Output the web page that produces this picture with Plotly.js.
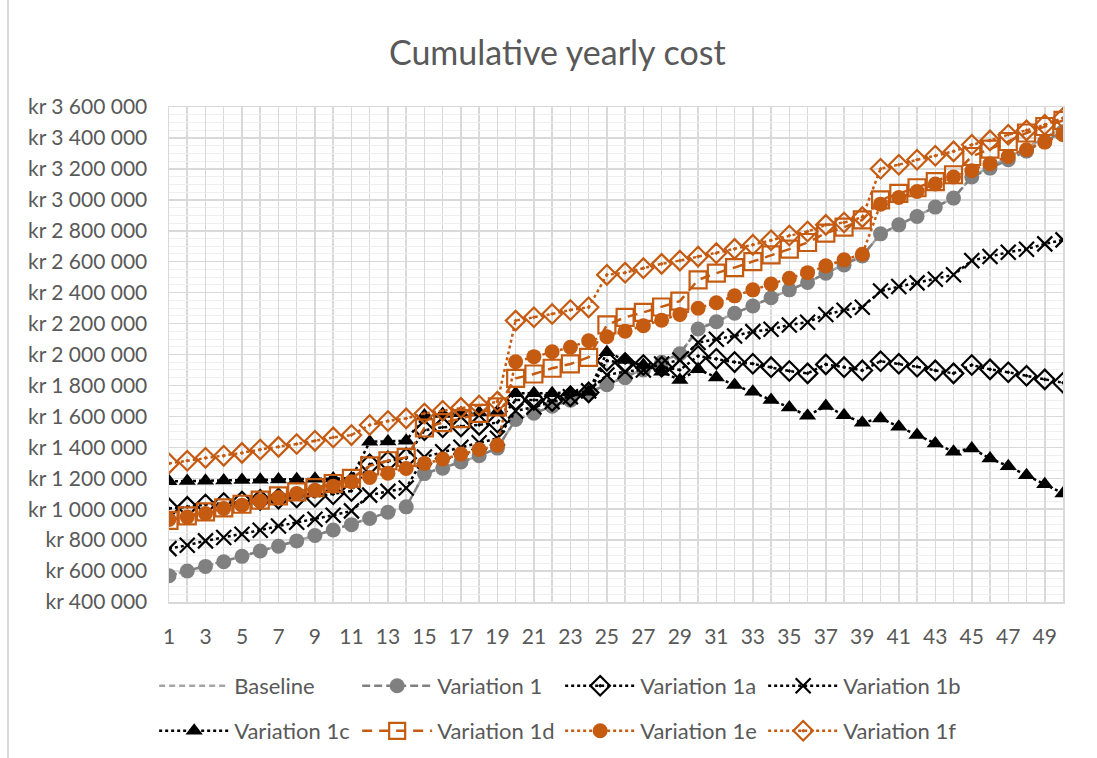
<!DOCTYPE html>
<html>
<head>
<meta charset="utf-8">
<script src="https://cdn.plot.ly/plotly-3.0.1.min.js"></script>
<style>html,body{margin:0;padding:0;background:#fff;}#chart{width:1097px;height:758px;}</style>
</head>
<body>
<div id="chart"></div>
<script>
const years = [1,2,3,4,5,6,7,8,9,10,11,12,13,14,15,16,17,18,19,20,21,22,23,24,25,26,27,28,29,30,31,32,33,34,35,36,37,38,39,40,41,42,43,44,45,46,47,48,49,50];
const xTickLabels = ["1","3","5","7","9","11","13","15","17","19","21","23","25","27","29","31","33","35","37","39","41","43","45","47","49"];
const seriesNames = ["Baseline","Variation 1","Variation 1a","Variation 1b","Variation 1c","Variation 1d","Variation 1e","Variation 1f"];

const baseline = [570000,600000,630000,660000,695000,730000,760000,795000,830000,865000,900000,940000,980000,1015000,1230000,1265000,1305000,1345000,1395000,1580000,1620000,1665000,1705000,1755000,1805000,1850000,1900000,1950000,2005000,2165000,2212000,2267000,2314000,2367000,2418000,2466000,2525000,2579000,2637000,2780000,2838000,2892000,2953000,3011000,3150000,3212000,3272000,3335000,3400000,3470000];
const variation1 = [570000,600000,630000,660000,695000,730000,760000,795000,830000,865000,900000,940000,980000,1015000,1230000,1265000,1305000,1345000,1395000,1580000,1620000,1665000,1705000,1755000,1805000,1850000,1900000,1950000,2005000,2165000,2212000,2267000,2314000,2367000,2418000,2466000,2525000,2579000,2637000,2780000,2838000,2892000,2953000,3011000,3147000,3205000,3259000,3315000,3375000,3440000];
const variation1a = [1005000,1015000,1030000,1040000,1050000,1060000,1068000,1076000,1080000,1097000,1118000,1290000,1310000,1330000,1510000,1530000,1535000,1545000,1560000,1706000,1706000,1700000,1730000,1755000,1960000,1945000,1932000,1921000,1900000,1990000,1972000,1951000,1940000,1918000,1893000,1878000,1936000,1918000,1897000,1956000,1940000,1921000,1897000,1878000,1932000,1904000,1885000,1863000,1839000,1817000];
const variation1b = [745000,767000,795000,817000,838000,864000,891000,915000,935000,961000,989000,1091000,1115000,1137000,1337000,1371000,1400000,1429000,1458000,1635000,1660000,1694000,1727000,1765000,1867000,1890000,1900000,1938000,1964000,2077000,2098000,2120000,2148000,2163000,2191000,2209000,2259000,2286000,2305000,2410000,2439000,2463000,2487000,2515000,2607000,2633000,2661000,2681000,2715000,2741000];
const variation1c = [1180000,1182000,1184000,1186000,1188000,1190000,1192000,1194000,1196000,1198000,1200000,1436000,1438000,1442000,1605000,1615000,1620000,1625000,1630000,1750000,1750000,1750000,1755000,1760000,2015000,1964000,1932000,1889000,1835000,1904000,1852000,1803000,1759000,1706000,1658000,1604000,1667000,1608000,1559000,1587000,1533000,1479000,1425000,1371000,1393000,1328000,1278000,1220000,1162000,1102000];
const variation1d = [928000,957000,983000,1008000,1032000,1058000,1086000,1112000,1140000,1166000,1199000,1280000,1313000,1335000,1525000,1560000,1585000,1620000,1662000,1846000,1874000,1911000,1939000,1982000,2191000,2240000,2272000,2307000,2345000,2482000,2526000,2562000,2601000,2644000,2681000,2724000,2785000,2823000,2870000,3000000,3041000,3078000,3118000,3162000,3280000,3328000,3377000,3432000,3474000,3513000];
const variation1e = [933000,950000,972000,1004000,1026000,1054000,1076000,1102000,1123000,1149000,1177000,1205000,1233000,1263000,1296000,1324000,1356000,1386000,1414000,1953000,1986000,2018000,2047000,2089000,2115000,2150000,2186000,2221000,2259000,2299000,2335000,2379000,2418000,2456000,2493000,2529000,2573000,2612000,2648000,2972000,3015000,3054000,3102000,3147000,3188000,3233000,3280000,3324000,3373000,3421000];
const variation1f = [1296000,1313000,1332000,1345000,1364000,1386000,1403000,1421000,1442000,1464000,1479000,1544000,1570000,1587000,1619000,1636000,1655000,1670000,1695000,2219000,2241000,2262000,2288000,2305000,2515000,2529000,2558000,2586000,2607000,2633000,2655000,2683000,2709000,2739000,2769000,2795000,2838000,2853000,2888000,3201000,3227000,3259000,3285000,3313000,3356000,3384000,3421000,3449000,3485000,3529000];

const ORANGE = '#C55A11';
const FONT = 'Lato, "Open Sans", sans-serif';

const values = [baseline, variation1, variation1a, variation1b, variation1c, variation1d, variation1e, variation1f];
const styles = [
  {mode:'lines', line:{color:'#A5A5A5', width:2.5, dash:'6px,4px'}},
  {mode:'lines+markers', line:{color:'#808080', width:2.5, dash:'8px,4px'}, marker:{symbol:'circle', size:15, color:'#808080'}},
  {mode:'lines+markers', line:{color:'#000000', width:2.5, dash:'dot'}, marker:{symbol:'diamond-open-dot', size:15, color:'#000000', line:{width:2.2, color:'#000000'}}},
  {mode:'lines+markers', line:{color:'#000000', width:2.5, dash:'dot'}, marker:{symbol:'x-thin-open', size:15, color:'#000000', line:{width:2.2, color:'#000000'}}},
  {mode:'lines+markers', line:{color:'#000000', width:2.5, dash:'dot'}, marker:{symbol:'triangle-up', size:15, color:'#000000'}},
  {mode:'lines+markers', line:{color:ORANGE, width:2.5, dash:'10px,7px'}, marker:{symbol:'square-open', size:17, color:ORANGE, line:{width:2.2, color:ORANGE}}},
  {mode:'lines+markers', line:{color:ORANGE, width:2.5, dash:'dot'}, marker:{symbol:'circle', size:15, color:ORANGE}},
  {mode:'lines+markers', line:{color:ORANGE, width:2.5, dash:'dot'}, marker:{symbol:'diamond-open-dot', size:15, color:ORANGE, line:{width:2.2, color:ORANGE}}}
];

const traces = seriesNames.map((name, i) => Object.assign({
  type:'scatter', x: years, y: values[i], name: name,
  legend: i < 4 ? 'legend' : 'legend2'
}, styles[i]));

const legendCommon = {
  orientation:'h', xref:'paper', yref:'paper', x:-0.0166, xanchor:'left', yanchor:'middle',
  entrywidth:118, entrywidthmode:'pixels', itemwidth:70,
  font:{family:FONT, size:22, color:'#595959'}, bgcolor:'rgba(0,0,0,0)', traceorder:'normal'
};

const layout = {
  width:1097, height:758,
  margin:{l:169, r:34, t:107, b:156, autoexpand:false},
  paper_bgcolor:'#ffffff', plot_bgcolor:'#ffffff',
  separators:', ',
  font:{family:FONT, size:21, color:'#595959'},
  title:{text:'Cumulative yearly cost', font:{family:FONT, size:34, color:'#595959'}, xref:'container', x:0.508, xanchor:'center', yref:'container', y:1-53/758, yanchor:'middle'},
  xaxis:{
    range:[1,50], tickmode:'array', tickvals:xTickLabels.map(Number), ticktext:xTickLabels,
    showgrid:true, gridcolor:'#D9D9D9', gridwidth:1.5,
    minor:{tickmode:'linear', tick0:1, dtick:1, showgrid:true, gridcolor:'#D9D9D9', gridwidth:1.5},
    showline:true, linecolor:'#D9D9D9', linewidth:1.5, mirror:true,
    zeroline:false, ticks:'', ticklabelstandoff:15, automargin:false,
    tickfont:{family:FONT, size:21, color:'#595959'}
  },
  yaxis:{
    range:[400000,3600000], tickmode:'linear', tick0:400000, dtick:200000,
    tickprefix:'kr ', tickformat:',d',
    showgrid:true, gridcolor:'#D9D9D9', gridwidth:1.5,
    minor:{tickmode:'linear', dtick:50000, showgrid:true, gridcolor:'#EFEFEF', gridwidth:1},
    showline:true, linecolor:'#D9D9D9', linewidth:1.5, mirror:true,
    zeroline:false, ticks:'', ticklabelstandoff:16, automargin:false,
    tickfont:{family:FONT, size:21, color:'#595959'}
  },
  showlegend:true,
  legend:Object.assign({}, legendCommon, {y:-(686-602)/495}),
  legend2:Object.assign({}, legendCommon, {y:-(731-602)/495}),
  shapes:[
    {type:'line', xref:'paper', yref:'paper', x0:(8-169)/894, x1:(8-169)/894, y0:-(758-602)/495, y1:602/495, line:{color:'#D9D9D9', width:2}}
  ]
};

Plotly.newPlot('chart', traces, layout, {staticPlot:true, displayModeBar:false});
</script>
</body>
</html>
